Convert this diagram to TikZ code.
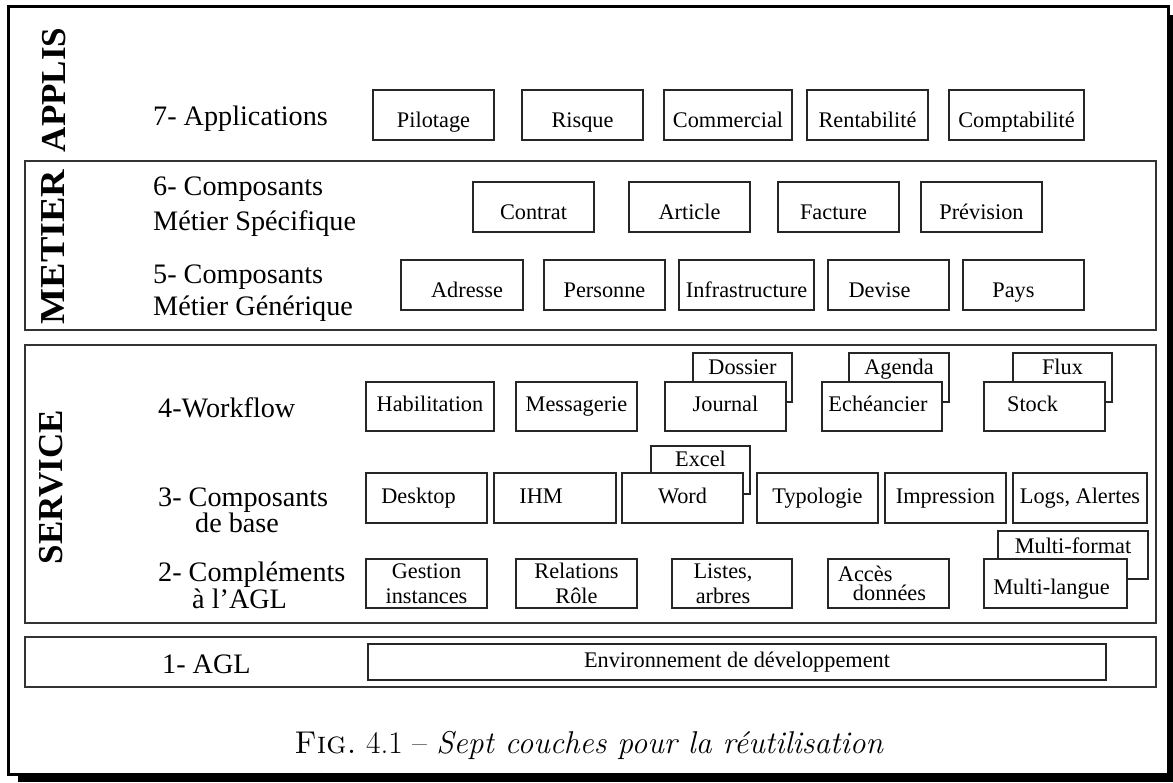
\documentclass[tikz,border=0pt]{standalone}
\usepackage{fontspec}
\newfontfamily\timesfont{Liberation Serif}
\begin{document}
\begin{tikzpicture}[x=1pt,y=-1pt,
  sz/.style 2 args={minimum width=#1pt, minimum height=#2pt},
  dx/.style={execute at begin node={\hspace*{#1}}},
  boxfont/.style={font=\timesfont\fontsize{22.3}{25}\selectfont},
  box/.style={draw=black!85, line width=1.1pt, fill=white, inner sep=0pt,
    boxfont, text height=15.5pt, text depth=5pt},
  boxlow/.style={box, text height=29.5pt},
  boxtwo/.style={draw=black!85, line width=1.1pt, fill=white, inner sep=0pt,
    boxfont, align=center},
  boxtxt/.style={inner sep=0pt, boxfont, text height=15.5pt, text depth=5pt},
  layer/.style={draw=black!80, line width=1.3pt, inner sep=0pt},
  lbl/.style={anchor=base west, inner sep=0pt, font=\timesfont\fontsize{28.2}{32}\selectfont},
  side/.style={rotate=90, inner sep=0pt, font=\timesfont\bfseries\fontsize{35}{40}\selectfont},
]
\useasboundingbox (0,0) rectangle (1173,782);

% outer frame with its drop shadow
\fill[black] (18,15) rectangle (1173,782);
\draw[fill=white, line width=3pt] (8.5,6.5) rectangle (1168.5,774.5);

% layer frames
\node[layer, sz={1131}{169}] (metier) at (590.5,245.5) {};
\node[layer, sz={1131}{278}] (service) at (590.5,484) {};
\node[layer, sz={1131}{50}] (agl) at (590.5,662) {};

% layer titles
\node[side] (tapplis) at (54,90) {APPLIS};
\node[side] (tmetier) at (53,247) {\scalebox{1.09}[1]{METIER}};
\node[side] (tservice) at (51,487) {SERVICE};

% level names
\node[lbl] (l7) at (153,125) {7- Applications};
\node[lbl] (l6a) at (153,195) {6- Composants};
\node[lbl] (l6b) at (153,230) {Métier Spécifique};
\node[lbl] (l5a) at (153,283) {5- Composants};
\node[lbl] (l5b) at (153,315) {Métier Générique};
\node[lbl] (l4) at (158,417) {4-Workflow};
\node[lbl] (l3a) at (158,506) {3- Composants};
\node[lbl] (l3b) at (195,532) {de base};
\node[lbl] (l2a) at (158,581) {2- Compléments};
\node[lbl] (l2b) at (192,608) {à l’AGL};
\node[lbl] (l1) at (162,673) {1- AGL};

% 7 - applications
\node[boxlow, sz={121}{50}] (pil) at (433.5,115) {Pilotage};
\node[boxlow, sz={121}{50}] (ris) at (582.5,115) {Risque};
\node[boxlow, sz={128}{50}] (com) at (728,115) {Commercial};
\node[boxlow, sz={121}{50}] (ren) at (867.5,115) {Rentabilité};
\node[boxlow, sz={135}{50}] (cpt) at (1016.5,115) {Comptabilité};

% 6 - specific business components
\node[boxlow, sz={121}{50}] (con) at (533.5,207) {Contrat};
\node[boxlow, sz={121}{50}] (art) at (689.5,207) {Article};
\node[boxlow, sz={121}{50}, dx=-10pt] (fac) at (838.5,207) {Facture};
\node[boxlow, sz={121}{50}] (pre) at (981.5,207) {Prévision};

% 5 - generic business components
\node[boxlow, sz={122}{50}, dx=10pt] (adr) at (462,285) {Adresse};
\node[boxlow, sz={121}{50}] (per) at (604.5,285) {Personne};
\node[boxlow, sz={135}{50}] (inf) at (746.5,285) {Infrastructure};
\node[boxlow, sz={121}{50}, dx=-18pt] (dev) at (888.5,285) {Devise};
\node[boxlow, sz={121}{50}, dx=-20pt] (pay) at (1023.5,285) {Pays};

% 4 - workflow (stacked cards behind)
\node[box, sz={99}{49}] (dos) at (742.5,377.5) {};
\node[box, sz={100}{49}] (age) at (899,377.5) {};
\node[box, sz={99}{49}] (flu) at (1062.5,377.5) {};
\node[boxtxt] (dosT) at (742.5,369.5) {Dossier};
\node[boxtxt] (ageT) at (899,369.5) {Agenda};
\node[boxtxt] (fluT) at (1062.5,369.5) {Flux};
\node[box, sz={128}{49}] (hab) at (430,406.5) {Habilitation};
\node[box, sz={121}{49}] (mes) at (576.5,406.5) {Messagerie};
\node[box, sz={121}{49}] (jou) at (725.5,406.5) {Journal};
\node[box, sz={120}{49}, dx=-8pt] (ech) at (882,406.5) {Echéancier};
\node[box, sz={121}{49}, dx=-24pt] (sto) at (1044.5,406.5) {Stock};

% 3 - base components
\node[box, sz={99}{48}] (exc) at (700.5,470) {};
\node[boxtxt] (excT) at (700.5,460.75) {Excel};
\node[box, sz={121}{50}, dx=-16pt] (des) at (426.5,498) {Desktop};
\node[box, sz={122}{50}, dx=-28pt] (ihm) at (555,498) {IHM};
\node[box, sz={121}{50}] (wor) at (682.5,498) {Word};
\node[box, sz={121}{50}] (typ) at (817.5,498) {Typologie};
\node[box, sz={121}{50}] (imp) at (945.5,498) {Impression};
\node[box, sz={134}{50}] (log) at (1080,498) {Logs, Alertes};

% 2 - complements to the CASE tool
\node[box, sz={150}{48}] (mfo) at (1073,555) {};
\node[boxtxt] (mfoT) at (1073,547.75) {Multi-format};
\node[boxtwo, sz={121}{49}] (ges) at (426.5,583.5) {Gestion\\instances};
\node[boxtwo, sz={121}{49}] (rel) at (576.5,583.5) {Relations\\Rôle};
\node[boxtwo, sz={120}{49}] (lis) at (732,583.5) {Listes,\hspace*{18pt}\\arbres\hspace*{18pt}};
\node[boxtwo, sz={121}{49}, align=left, font=\timesfont\fontsize{22.3}{19}\selectfont] (acc) at (888.5,583.5) {Accès\\\hspace*{15pt}données\hspace*{13pt}};
\node[box, sz={143}{49}, dx=-8pt, text height=27.5pt] (mla) at (1055.5,583.5) {Multi-langue};

% 1 - CASE tool
\node[box, sz={738}{36}] (env) at (737,662) {Environnement de développement};

% caption
\node[anchor=base, inner sep=0pt, font=\fontsize{31.5}{38}\selectfont] (cap) at (589,753)
  {\textsc{Fig.}~4.1 -- \textit{Sept couches pour la réutilisation}};
\end{tikzpicture}
\end{document}
